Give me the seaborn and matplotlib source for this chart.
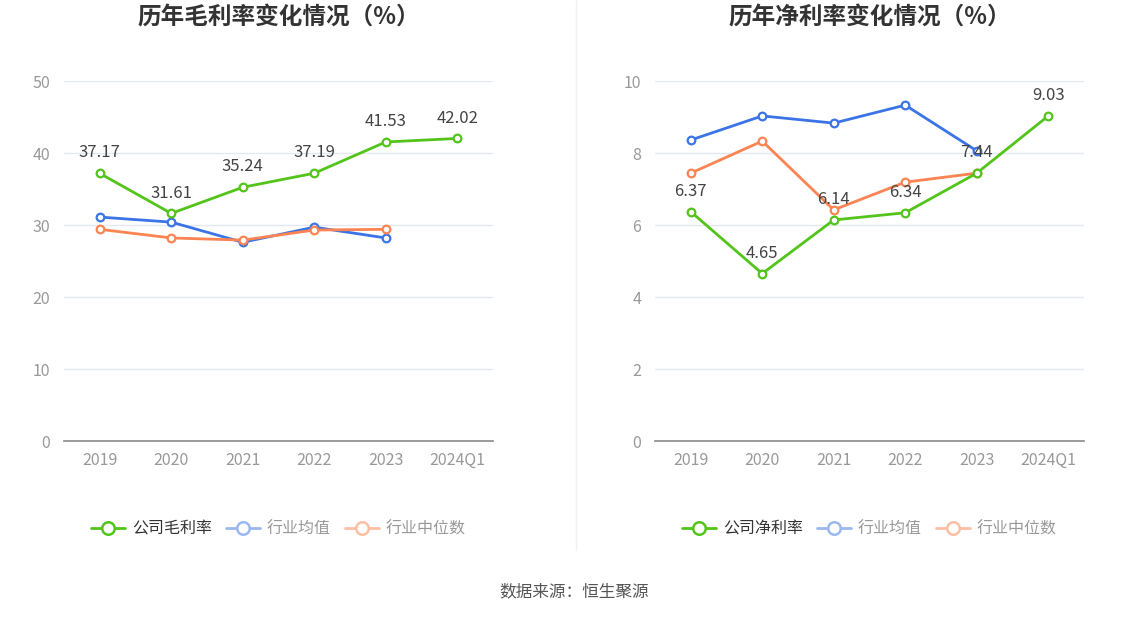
import pandas as pd
import numpy as np
import matplotlib
matplotlib.use("Agg")
import matplotlib.pyplot as plt
from matplotlib.lines import Line2D
import seaborn as sns

sns.set_style("white")
plt.rcParams['font.family'] = ['Noto Sans CJK SC', 'DejaVu Sans']

years = ["2019", "2020", "2021", "2022", "2023", "2024Q1"]

gross_company = [37.17, 31.61, 35.24, 37.19, 41.53, 42.02]
gross_avg = [31.1, 30.4, 27.6, 29.7, 28.2, None]
gross_median = [29.4, 28.2, 27.9, 29.3, 29.4, None]

net_company = [6.37, 4.65, 6.14, 6.34, 7.44, 9.03]
net_avg = [8.36, 9.03, 8.83, 9.33, 8.06, None]
net_median = [7.44, 8.33, 6.42, 7.19, 7.44, None]

GREEN = "#52c41a"
BLUE = "#3a74e6"
ORANGE = "#fc8452"

fig = plt.figure(figsize=(11.48, 6.19), dpi=100)
ax1 = fig.add_axes([64 / 1148, 1 - 441 / 619, 429 / 1148, 360 / 619])
ax2 = fig.add_axes([655 / 1148, 1 - 441 / 619, 429 / 1148, 360 / 619])


def draw(ax, comp, avg, med, ymax, step, title, comp_name):
    df = pd.DataFrame({"x": np.arange(len(years)), "comp": comp,
                       "avg": avg, "med": med}).astype(float)
    for col, color, z in [("avg", BLUE, 2), ("med", ORANGE, 3), ("comp", GREEN, 4)]:
        d = df.dropna(subset=[col])
        sns.lineplot(data=d, x="x", y=col, ax=ax, color=color, linewidth=2,
                     marker="o", markersize=5.5, markerfacecolor="white",
                     markeredgecolor=color, markeredgewidth=1.6, zorder=z)
    for i, v in enumerate(comp):
        ax.text(i, v + ymax * 0.033, f"{v:.2f}", ha="center", va="bottom",
                fontsize=12, color="#444444", zorder=6)
    ax.set_xlim(-0.5, len(years) - 0.5)
    ax.set_ylim(0, ymax)
    ax.set_yticks(np.arange(0, ymax + 0.01, step))
    ax.set_xticks(np.arange(len(years)))
    ax.set_xticklabels(years)
    ax.set_xlabel("")
    ax.set_ylabel("")
    ax.grid(axis="y", color="#e3e8f2", linewidth=1)
    ax.set_axisbelow(True)
    for s in ["top", "right", "left"]:
        ax.spines[s].set_visible(False)
    ax.spines["bottom"].set_color("#888888")
    ax.spines["bottom"].set_linewidth(1.2)
    ax.tick_params(axis="both", colors="#999999", labelsize=11.5, length=0)
    ax.tick_params(axis="x", length=5, color="#888888", pad=3)
    ax.yaxis.set_tick_params(pad=10)
    fig.text((ax.get_position().x0 + ax.get_position().x1) / 2, 1 - 18 / 619, title,
             ha="center", va="center", fontsize=17, fontweight="bold", color="#333333")
    handles = [
        Line2D([], [], color=GREEN, lw=2, marker="o", markersize=9,
               markerfacecolor="white", markeredgewidth=1.8),
        Line2D([], [], color="#9bb8f0", lw=2, marker="o", markersize=9,
               markerfacecolor="white", markeredgewidth=1.8),
        Line2D([], [], color="#fdbfa3", lw=2, marker="o", markersize=9,
               markerfacecolor="white", markeredgewidth=1.8),
    ]
    leg = ax.legend(handles, [comp_name, "行业均值", "行业中位数"], loc="center",
                    bbox_to_anchor=(0.5, -0.245), ncol=3, frameon=False,
                    fontsize=11.5, handlelength=2.1, columnspacing=0.9,
                    handletextpad=0.45)
    for t, c in zip(leg.get_texts(), ["#333333", "#999999", "#999999"]):
        t.set_color(c)


draw(ax1, gross_company, gross_avg, gross_median, 50, 10,
     "历年毛利率变化情况（%）", "公司毛利率")
draw(ax2, net_company, net_avg, net_median, 10, 2,
     "历年净利率变化情况（%）", "公司净利率")

fig.add_artist(Line2D([576 / 1148, 576 / 1148], [1 - 550 / 619, 1.0],
                      color="#f0f0f0", lw=1))
fig.text(0.5, 1 - 592 / 619, "数据来源：恒生聚源", ha="center", va="center",
         fontsize=12, color="#555555")

fig.savefig("out.png", dpi=100)
